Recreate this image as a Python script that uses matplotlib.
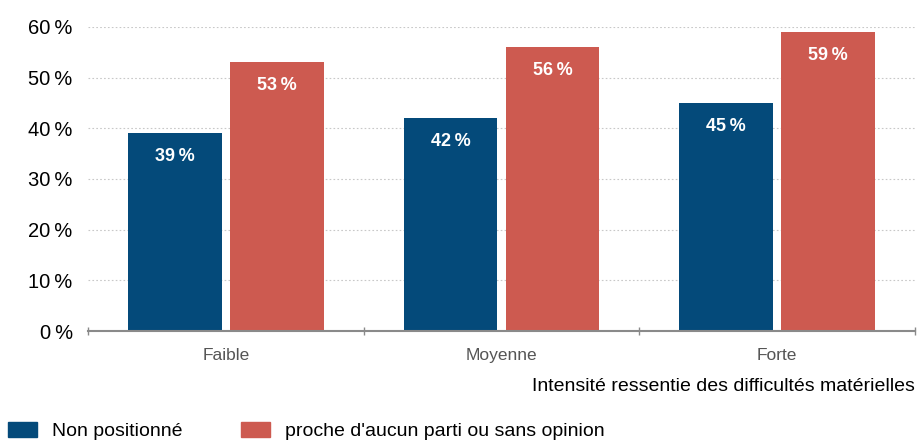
import numpy as np
import matplotlib.pyplot as plt
from matplotlib.patches import Patch

categories = ['Faible', 'Moyenne', 'Forte']
non_positionne = [39, 42, 45]
aucun_parti = [53, 56, 59]
series_names = ['Non positionné', "proche d'aucun parti ou sans opinion"]
yticks = [0, 10, 20, 30, 40, 50, 60]
xlabel = 'Intensité ressentie des difficultés matérielles'

blue = '#044a7a'
red = '#cd5a50'
plt.rcParams['font.family'] = ['Liberation Sans Narrow', 'Liberation Sans', 'DejaVu Sans']

fig = plt.figure(figsize=(9.17, 4.44), dpi=100)
ax = fig.add_axes([88 / 917, 113 / 444, 827 / 917, 304 / 444])

x = np.arange(len(categories))
w = 0.34
b1 = ax.bar(x - 0.185, non_positionne, w, color=blue)
b2 = ax.bar(x + 0.185, aucun_parti, w, color=red)

for bars in (b1, b2):
    for bar in bars:
        h = bar.get_height()
        ax.text(bar.get_x() + bar.get_width() / 2, h - 4.6, '%d\u2009%%' % h,
                ha='center', va='center', color='white', fontsize=13,
                fontweight='bold')

ax.set_xlim(-0.5, len(categories) - 0.5)
ax.set_ylim(0, 60)
ax.set_yticks(yticks)
ax.set_yticklabels(['%d\u2009%%' % v for v in yticks], fontsize=14.5)
ax.yaxis.grid(True, linestyle=(0, (1.5, 2)), color='#c8c8c8', linewidth=0.8)
ax.set_axisbelow(True)
ax.tick_params(axis='y', length=0, pad=11)

ax.set_xticks(x)
ax.set_xticklabels(categories, fontsize=12.5, color='#555555')
ax.set_xticks(np.arange(len(categories) + 1) - 0.5, minor=True)
ax.tick_params(axis='x', which='major', length=0, pad=12.5)
ax.tick_params(axis='x', which='minor', length=6, direction='inout',
               color='#8a8a8a', width=1)

for s in ['top', 'right', 'left']:
    ax.spines[s].set_visible(False)
ax.spines['bottom'].set_color('#8a8a8a')
ax.spines['bottom'].set_linewidth(1.5)

fig.text(915 / 917, 1 - 386 / 444, xlabel, ha='right', va='center', fontsize=14)

handles = [Patch(color=blue), Patch(color=red)]
fig.legend(handles, series_names, loc='center left', bbox_to_anchor=(0.0, 1 - 431 / 444),
           ncol=2, frameon=False, fontsize=14, handlelength=1.5, handleheight=0.82,
           columnspacing=3.0, handletextpad=0.77, borderaxespad=0)

fig.savefig('out.png', dpi=100)
